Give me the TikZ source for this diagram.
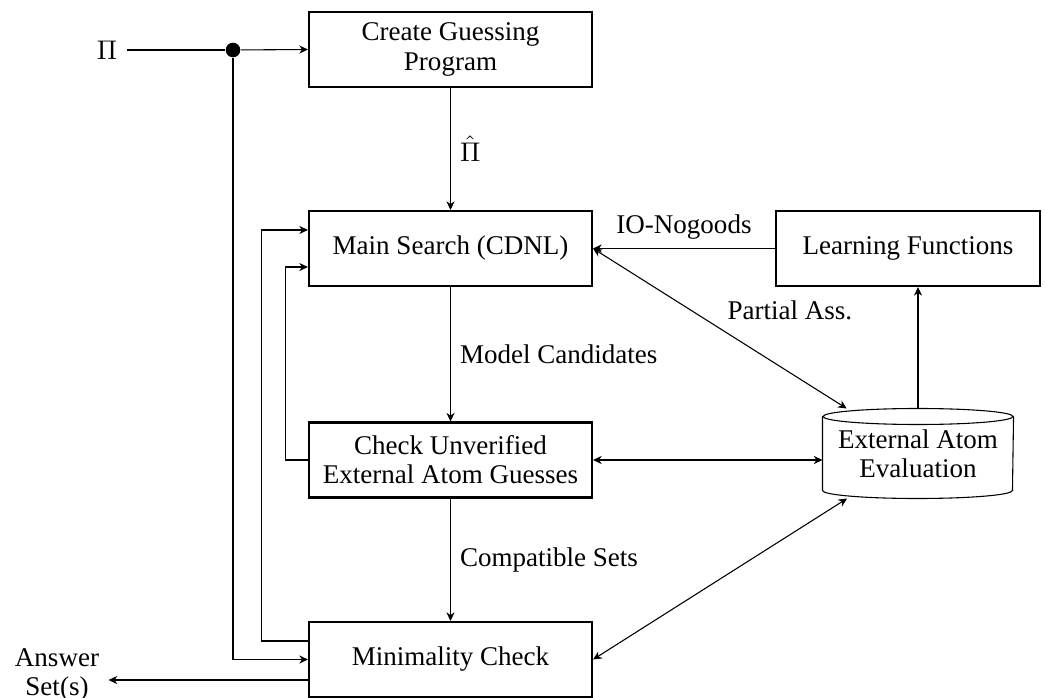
\documentclass[tikz,border=0pt]{standalone}
\usepackage{fontspec}
\setmainfont{Liberation Serif}
\usetikzlibrary{shapes.geometric,arrows.meta,calc}
\begin{document}
\begin{tikzpicture}[x=0.37pt,y=-0.37pt,
  font=\fontsize{10pt}{12pt}\selectfont,
  >={Stealth[length=3.2pt,width=3pt,inset=1pt]},
  procbox/.style={draw,line width=0.8pt,minimum width=104.7pt,minimum height=27.7pt,align=center,inner sep=0pt},
  conn/.style={line width=0.4pt},
  dbox/.style={minimum width=70.3pt,minimum height=32.9pt,align=center,inner sep=0pt}]
\useasboundingbox (0,0) rectangle (1045,698);
\node (pi) at (107,50) {\(\Pi\)};
\node[circle,fill,inner sep=0pt,minimum size=5.4pt] (dot) at (233,50) {};
\node[procbox] (create) at (450.5,49.5) {Create Guessing\\[-1.2pt]Program};
\node[procbox] (main) at (450.5,248.5) {Main Search (CDNL)};
\node[procbox,minimum width=97.7pt] (learn) at (908,248.5) {Learning Functions};
\node[procbox] (check) at (450.5,460) {Check Unverified\\[-1.2pt]External Atom Guesses};
\node[procbox] (mini) at (450.5,659.5) {Minimality Check};
\node[dbox] (cyl) at (918,453.5) {External Atom\\[-1.2pt]Evaluation};
\draw[conn] ($(cyl.north)+(0,8)$) ellipse [x radius=35.15pt, y radius=2.96pt];
\draw[conn] ($(cyl.north west)+(0,8)$) -- ($(cyl.south west)+(0,-8)$)
  arc[start angle=180, end angle=360, x radius=35.15pt, y radius=2.96pt]
  -- ($(cyl.north east)+(0,8)$);
\node[align=center] (ans) at (57,675) {Answer\\[-1.6pt]Set(s)};

\draw[conn] (pi) -- (dot);
\draw[conn,->] (dot) -- (create.west);
\draw[conn,->] (dot) |- (mini.west);
\draw[conn,->] (create.south) -- node[right] {\(\hat{\Pi}\)} (main.north);
\draw[conn,->] (learn.west) -- node[above] {IO-Nogoods} (main.east);
\draw[conn,<->] (main.east) -- node[pos=0.5,xshift=25.9pt,yshift=6.7pt] {Partial Ass.} (cyl);
\draw[conn,->] (cyl.north) -- (cyl.north |- learn.south);
\draw[conn,->] (main.south) -- node[right] {Model Candidates} (check.north);
\draw[conn,<->] (check.east) -- (check.east -| cyl.west);
\draw[conn,->] (check.south) -- node[right] {Compatible Sets} (mini.north);
\draw[conn,<->] (mini.east) -- (cyl);
\draw[conn,->] ($(mini.north west)+(0,20)$) -- ++(-46,0) |- ($(main.north west)+(0,20)$);
\draw[conn,->] (check.west) -- ++(-22,0) |- ($(main.south west)+(0,-20)$);
\draw[conn,->] ($(mini.south west)+(0,-18)$) -- (ans.east |- {$(mini.south west)+(0,-18)$});
\end{tikzpicture}
\end{document}
